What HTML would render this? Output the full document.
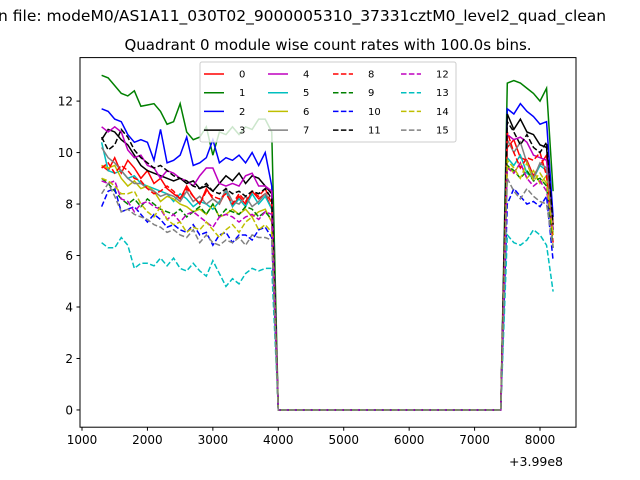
<!DOCTYPE html>
<html><head><meta charset="utf-8"><style>
body{margin:0;background:#fff}
svg{display:block;font-family:"DejaVu Sans","Liberation Sans",sans-serif}
</style></head><body>
<svg id="chart" width="640" height="480" viewBox="0 0 640 480">
<text x="-2" y="21" font-size="15.5" fill="#000">n file: modeM0/AS1A11_030T02_9000005310_37331cztM0_level2_quad_clean</text>
<text x="328" y="50" font-size="15" text-anchor="middle" fill="#000">Quadrant 0 module wise count rates with 100.0s bins.</text>
<g id="plot"></g>
<rect x="80" y="57.6" width="496" height="369.6" fill="none" stroke="#000" stroke-width="1"/>
<g id="axes"></g>
<text x="563" y="466" font-size="12.5" text-anchor="end">+3.99e8</text>
<g id="legend"></g>
</svg>
<script>
const xStart = 1300, xStep = 100;
const xTicks = [1000,2000,3000,4000,5000,6000,7000,8000];
const yTicks = [0,2,4,6,8,10,12];
const gap = [0,0,0,0,0,0,0,0,0,0,0,0,0,0,0,0,0,0,0,0,0,0,0,0,0,0,0,0,0,0,0,0,0,0,0];
const colors = ['#ff0000','#008000','#0000ff','#000000','#bf00bf','#00bfbf','#bfbf00','#808080'];
const s0L=[9.5,9.3,9.8,9.2,9.7,9.4,9.0,9.3,8.8,9.0,8.6,8.4,8.2,8.7,8.3,8.0,8.6,8.2,8.0,8.5,7.9,8.3,8.0,8.5,8.2,8.4,7.8], s0R=[10.2,10.5,9.8,9.7,9.1,9.5,9.9,7.2];
const s1L=[13.0,12.9,12.6,12.3,12.2,12.4,11.8,11.85,11.9,11.6,11.1,11.2,11.9,10.8,10.5,10.6,11.0,9.9,10.8,10.7,11.0,10.7,11.0,10.9,11.3,11.3,10.8], s1R=[12.7,12.8,12.7,12.5,12.3,12.0,12.5,8.5];
const s2L=[11.7,11.6,11.3,11.2,10.7,10.4,10.5,10.4,9.7,10.9,9.6,9.7,9.9,10.6,9.5,9.6,9.8,10.5,9.6,9.8,9.7,9.9,9.6,10.0,9.5,10.0,8.7], s2R=[11.7,11.5,11.9,11.6,11.4,11.1,11.2,7.5];
const s3L=[10.5,10.9,10.8,10.5,10.3,9.9,9.5,9.3,9.2,9.1,9.0,8.9,9.0,8.8,8.9,8.6,8.7,8.5,8.8,9.1,8.9,9.2,8.8,9.1,9.0,8.7,8.4], s3R=[11.5,10.9,11.3,10.8,10.7,10.3,10.2,7.0];
const s4L=[11.0,10.8,11.0,10.8,10.1,9.8,9.9,9.5,9.4,9.0,9.3,9.2,9.0,8.9,8.7,9.1,9.4,9.4,8.8,8.7,8.8,8.7,9.1,9.2,8.7,8.7,8.5], s4R=[10.7,10.5,10.6,10.4,9.9,9.8,9.7,7.0];
const s5L=[10.4,9.3,9.2,9.3,9.0,9.1,8.8,8.7,8.6,8.5,8.4,8.1,8.4,8.2,7.9,8.1,8.0,7.8,8.1,8.5,7.9,8.2,7.9,8.4,8.0,8.3,7.8], s5R=[9.8,9.5,9.9,9.2,9.0,9.5,9.3,6.9];
const s6L=[9.5,9.4,9.5,9.0,8.7,8.9,8.6,8.7,8.5,8.1,8.3,8.2,8.0,7.9,7.7,7.8,7.6,8.0,7.5,7.6,7.8,7.6,7.8,7.5,7.7,7.8,7.3], s6R=[9.5,9.2,9.6,9.0,9.3,8.8,9.1,6.8];
const s7L=[10.2,9.8,9.6,9.3,9.0,8.8,8.8,8.6,8.5,8.3,8.4,8.3,8.1,8.5,8.1,8.3,8.0,8.2,8.0,8.6,8.1,8.0,8.3,7.9,8.1,8.4,8.1], s7R=[10.5,10.0,10.4,9.6,9.0,9.6,9.4,7.0];
const s8L=[9.4,9.6,9.2,9.5,9.3,9.0,8.9,8.6,8.4,8.5,8.7,8.5,8.2,8.6,8.3,8.0,8.5,8.3,8.2,8.4,8.0,8.4,8.1,8.5,8.3,8.6,8.0], s8R=[10.8,10.0,9.4,9.8,9.7,10.0,9.1,6.5];
const s9L=[9.0,8.8,8.5,8.2,8.0,8.2,7.9,8.2,8.0,7.8,7.7,7.6,7.8,7.5,7.7,7.9,7.6,8.0,7.5,7.8,7.7,7.6,7.9,7.8,7.5,7.7,7.4], s9R=[9.5,9.3,9.0,9.3,8.9,9.0,8.7,6.3];
const s10L=[7.9,8.5,8.6,7.7,7.8,7.9,7.6,7.3,7.6,7.4,7.1,7.2,7.0,6.9,7.2,6.8,6.9,6.4,6.8,6.9,6.5,6.8,6.8,6.6,7.0,7.1,6.7], s10R=[8.0,8.6,8.3,8.0,8.1,7.9,8.3,5.8];
const s11L=[10.6,10.1,10.3,10.9,10.6,10.1,9.8,9.6,9.4,9.5,9.3,9.1,9.0,8.9,8.7,8.6,8.8,8.5,8.4,8.6,8.4,8.5,8.3,8.5,8.4,8.6,8.2], s11R=[11.2,10.8,10.3,10.7,10.2,10.0,10.4,7.2];
const s12L=[8.9,8.8,8.9,8.2,8.1,7.7,8.0,8.1,7.9,7.8,7.4,7.6,7.3,7.6,7.7,7.5,7.3,7.1,7.5,7.6,7.5,7.3,7.5,7.6,7.4,7.7,7.6], s12R=[9.4,9.2,9.6,9.0,8.7,8.9,8.5,7.0];
const s13L=[6.5,6.3,6.3,6.7,6.4,5.5,5.7,5.7,5.6,5.9,5.6,5.9,5.5,5.4,5.7,5.4,5.2,5.8,5.3,4.8,5.1,4.9,5.3,5.5,5.4,5.5,5.5], s13R=[6.8,6.5,6.4,6.6,7.0,6.8,6.4,4.6];
const s14L=[9.0,8.9,8.7,8.4,8.4,8.5,8.0,7.7,7.5,7.9,7.4,7.2,7.3,6.9,7.1,7.0,7.3,7.0,6.7,7.0,7.2,6.9,7.3,7.5,7.0,7.2,6.9], s14R=[9.7,9.4,9.0,9.6,8.9,9.2,8.8,6.8];
const s15L=[8.4,8.8,8.3,7.7,7.8,7.6,7.5,7.4,7.2,7.1,6.9,7.0,6.8,6.7,7.0,6.5,6.8,6.5,6.4,6.6,6.5,6.7,6.4,6.8,6.7,6.7,6.6], s15R=[9.0,8.5,8.2,8.6,8.3,8.1,8.0,6.3];
const seriesL=[s0L,s1L,s2L,s3L,s4L,s5L,s6L,s7L,s8L,s9L,s10L,s11L,s12L,s13L,s14L,s15L];
const seriesR=[s0R,s1R,s2R,s3R,s4R,s5R,s6R,s7R,s8R,s9R,s10R,s11R,s12R,s13R,s14R,s15R];

const NS='http://www.w3.org/2000/svg';
const X0=80,X1=576,Y0=427.2,Y1=57.6, xmin=969.4,xmax=8550,ymin=-0.67,ymax=13.69;
const xs=v=>X0+(v-xmin)/(xmax-xmin)*(X1-X0);
const ys=v=>Y0-(v-ymin)/(ymax-ymin)*(Y0-Y1);
function mk(t,a,p){const e=document.createElementNS(NS,t);for(const k in a)e.setAttribute(k,a[k]);p.appendChild(e);return e;}
const plot=document.getElementById('plot'), axes=document.getElementById('axes'), leg=document.getElementById('legend');
for(let i=0;i<16;i++){
  const vals=seriesL[i].concat(gap,seriesR[i]);
  const d=vals.map((v,j)=>(j?'L':'M')+xs(xStart+j*xStep).toFixed(2)+','+ys(v).toFixed(2)).join('');
  const p=mk('path',{d:d,fill:'none',stroke:colors[i%8],'stroke-width':1.5,'stroke-dasharray':i>=8?'5.5,2.4':'none'},plot);
  
  
}
xTicks.forEach(v=>{const x=xs(v);
  const l=mk('line',{x1:x,x2:x,y1:Y0,y2:Y0+3.5,stroke:'#000'},axes);
  
  
  const t=mk('text',{x:x,y:Y0+17,'font-size':12,'text-anchor':'middle'},axes);t.textContent=v;
  
  
});
yTicks.forEach(v=>{const y=ys(v);
  const l=mk('line',{x1:X0-3.5,x2:X0,y1:y,y2:y,stroke:'#000'},axes);
  
  
  const t=mk('text',{x:X0-7,y:y+4.5,'font-size':12,'text-anchor':'end'},axes);t.textContent=v;
  
  
});
const box=mk('rect',{x:200,y:62,width:256,height:80,rx:2,fill:'#fff','fill-opacity':0.8,stroke:'#ccc'},leg);


const colX=[204,268,333,401];
for(let i=0;i<16;i++){
  const c=Math.floor(i/4), r=i%4, y=74+r*18.7, x=colX[c];
  const l=mk('line',{x1:x,x2:x+20,y1:y,y2:y,stroke:colors[i%8],'stroke-width':1.5,'stroke-dasharray':i>=8?'5.5,2.4':'none'},leg);
  
  
  const t=mk('text',{x:x+35,y:y+3.5,'font-size':10},leg);t.textContent=i;
  
  
}
</script>
</body></html>
